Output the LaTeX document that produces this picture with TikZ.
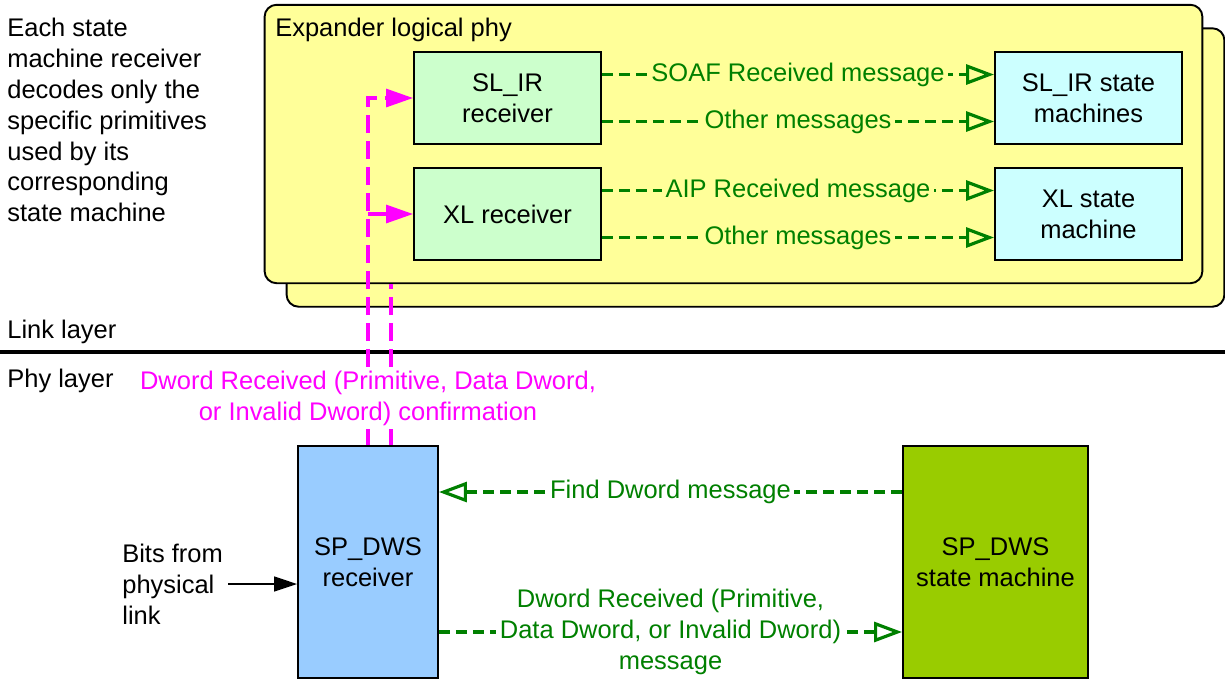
\documentclass[tikz,border=0pt]{standalone}
\usepackage{fontspec}
\setmainfont{Liberation Sans}
\usetikzlibrary{arrows.meta,positioning}
\definecolor{phyyellow}{RGB}{255,255,153}
\definecolor{rxgreen}{RGB}{204,255,204}
\definecolor{smcyan}{RGB}{204,255,255}
\definecolor{dwsblue}{RGB}{153,204,255}
\definecolor{dwslime}{RGB}{153,204,0}
\definecolor{msggreen}{RGB}{0,128,0}
\definecolor{confmag}{RGB}{255,0,255}

\begin{document}
\begin{tikzpicture}[x=0.02cm, y=-0.02cm,
      every node/.style={font=\fontsize{14.5}{17.6}\selectfont},
      panel/.style={draw, line width=1.1pt, rounded corners=0.24cm, fill=phyyellow, minimum width=18.76cm, minimum height=5.57cm},
      block/.style={draw, line width=1.1pt, align=center, minimum width=3.74cm, minimum height=1.84cm},
      dwsblock/.style={draw, line width=1.1pt, align=center, minimum height=4.64cm},
      msg/.style={draw=msggreen, line width=1.8pt, dash pattern=on 0.22cm off 0.12cm, -{Triangle[open, length=0.56cm, width=0.4cm]}},
      msglabel/.style={text=msggreen, fill=#1, inner xsep=2pt, inner ysep=1pt, align=center},
      conf/.style={draw=confmag, line width=1.8pt, dash pattern=on 0.36cm off 0.16cm},
      note/.style={align=left, inner sep=0pt}
    ]
      \useasboundingbox (0,0) rectangle (1225,681);

      \node[panel] (back) at (755.5,167.5) {};
      \node[panel] (front) at (733.5,144) {};
      \node[note, anchor=base west] (title) at (275,36) {Expander logical phy};

      \node[block, fill=rxgreen] (slirrx) at (507.5,98) {SL\_IR\\receiver};
      \node[block, fill=rxgreen] (xlrx) at (507.5,214) {XL receiver};
      \node[block, fill=smcyan] (slirsm) at (1088.5,98) {SL\_IR state\\machines};
      \node[block, fill=smcyan] (xlsm) at (1088.5,214) {XL state\\machine};

      \draw[msg] ([yshift=0.47cm]slirrx.east) -- node[msglabel=phyyellow] {SOAF Received message} ([yshift=0.47cm]slirsm.west);
      \draw[msg] ([yshift=-0.47cm]slirrx.east) -- node[msglabel=phyyellow] {Other messages} ([yshift=-0.47cm]slirsm.west);
      \draw[msg] ([yshift=0.47cm]xlrx.east) -- node[msglabel=phyyellow] {AIP Received message} ([yshift=0.47cm]xlsm.west);
      \draw[msg] ([yshift=-0.47cm]xlrx.east) -- node[msglabel=phyyellow] {Other messages} ([yshift=-0.47cm]xlsm.west);

      \node[note, anchor=north west] (legend) at (7,17.5) {Each state\\machine receiver\\decodes only the\\specific primitives\\used by its\\corresponding\\state machine};

      \draw[line width=2.8pt] (0,352) -- (1225,352);
      \node[note, anchor=base west] (linklbl) at (7,338) {Link layer};
      \node[note, anchor=base west] (phylbl) at (7,387) {Phy layer};

      \node[dwsblock, fill=dwsblue, minimum width=2.8cm] (dwsrx) at (368,562) {SP\_DWS\\receiver};
      \node[dwsblock, fill=dwslime, minimum width=3.7cm] (dwssm) at (995.5,562) {SP\_DWS\\state machine};

      \coordinate (confb) at ([xshift=0.46cm]dwsrx.north);
      \draw[conf, -{Triangle[length=0.54cm, width=0.36cm]}] (dwsrx.north) |- (slirrx.west);
      \draw[conf, -{Triangle[length=0.54cm, width=0.36cm]}] (dwsrx.north |- xlrx.west) -- (xlrx.west);
      \draw[conf] (confb) -- (confb |- front.south);
      \node[text=confmag, fill=white, align=center, inner sep=2pt] (conflbl) at (368,398) {Dword Received (Primitive, Data Dword,\\or Invalid Dword) confirmation};

      \draw[msg] ([yshift=1.4cm]dwssm.west) -- node[msglabel=white] {Find Dword message} ([yshift=1.4cm]dwsrx.east);
      \draw[msg] ([yshift=-1.4cm]dwsrx.east) -- node[msglabel=white] {Dword Received (Primitive,\\Data Dword, or Invalid Dword)\\message} ([yshift=-1.4cm]dwssm.west);

      \node[note, anchor=west] (bits) at (122,584) {Bits from\\physical\\link};
      \draw[line width=0.8pt, -{Triangle[length=0.46cm, width=0.3cm]}] ([xshift=0.1cm]bits.east) -- (bits.east -| dwsrx.west);
    \end{tikzpicture}
\end{document}
